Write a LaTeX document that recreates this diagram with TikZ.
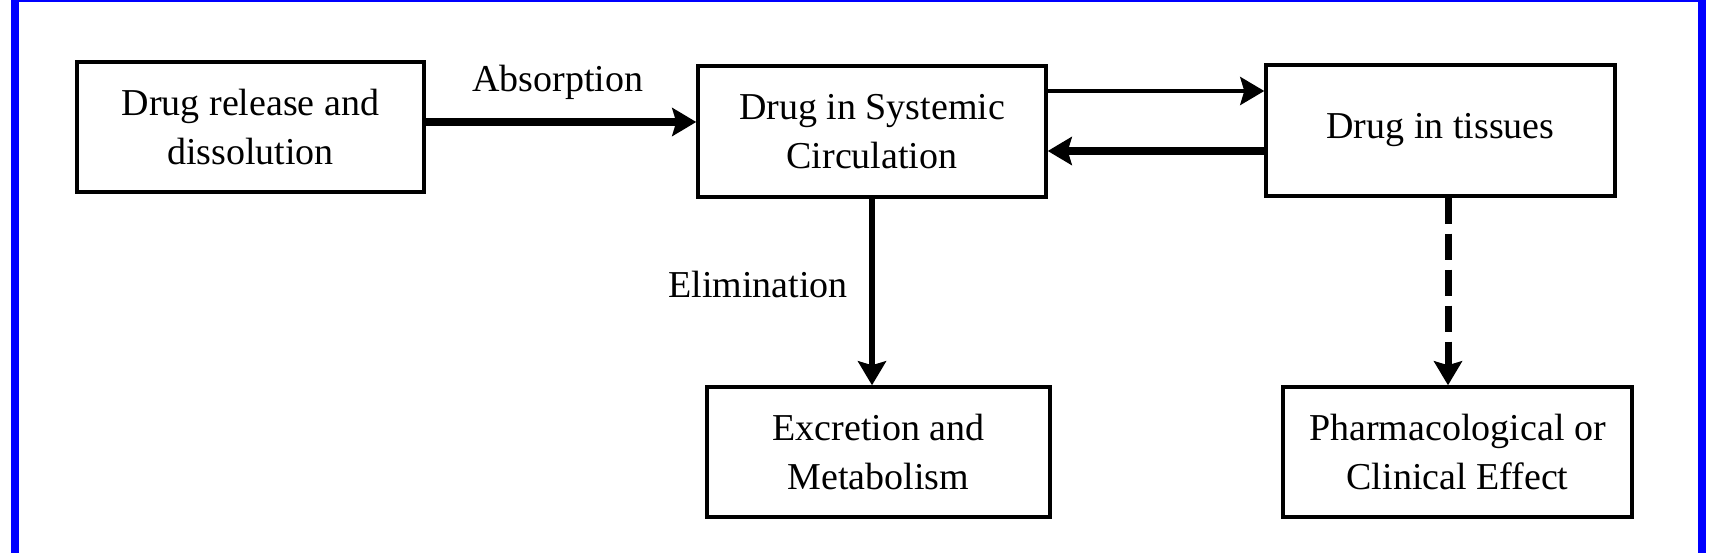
\documentclass[tikz,border=0pt]{standalone}
\usepackage{fontspec}
\setmainfont{Liberation Serif}
\usetikzlibrary{arrows.meta,calc}
\tikzset{
  box/.style={draw=black, line width=3.5pt, rectangle, inner sep=0pt, align=center,
    font=\fontsize{38}{49}\selectfont, minimum height=130pt},
  lbl/.style={inner sep=0pt, anchor=base, font=\fontsize{38}{49}\selectfont},
  tip/.style={-{Stealth[length=24pt,width=28pt,inset=4pt]}},
  frame/.style={draw=blue, line cap=rect}
}
\begin{document}
\begin{tikzpicture}[x=1pt,y=-1pt]
\useasboundingbox (0,0) rectangle (1717,553);
\fill[white] (0,0) rectangle (1717,553);
% blue frame
\fill[blue] (11,0) rectangle (19,553);
\fill[blue] (1698,0) rectangle (1706,553);
\fill[blue] (11,0) rectangle (1706,2.5);
% boxes
\node[box, minimum width=347pt] (b1) at (250.5,127) {Drug release and\\dissolution};
\node[box, minimum width=348pt, minimum height=131pt] (b2) at (872,131.5) {Drug in Systemic\\Circulation};
\node[box, minimum width=349pt, minimum height=131pt] (b3) at (1440.5,130.5) {Drug in tissues};
\node[box, minimum width=343pt] (b4) at (878.5,452) {Excretion and\\Metabolism};
\node[box, minimum width=349pt] (b5) at (1457.5,452) {Pharmacological or\\Clinical Effect};
% labels
\node[lbl] (la) at (558,92) {Absorption};
\node[lbl] (le) at (758,298) {Elimination};
% connectors
\draw[tip, line width=7.5pt] ([yshift=5pt]b1.east) -- ([yshift=5pt]b1.east -| b2.west);
\draw[tip, line width=4pt] ([yshift=40.5pt]b2.east) -- ([yshift=40.5pt]b2.east -| b3.west);
\draw[tip, line width=7.5pt] ([yshift=-20.5pt]b3.west) -- ([yshift=-20.5pt]b3.west -| b2.east);
\draw[tip, line width=5.5pt] (b2.south) -- (b2.south |- b4.north);
\coordinate (d0) at ($(b3.south)+(7.5,0)$);
\draw[tip, line width=7pt, dash pattern=on 26pt off 10pt] (d0) -- (d0 |- b5.north);
\end{tikzpicture}
\end{document}
